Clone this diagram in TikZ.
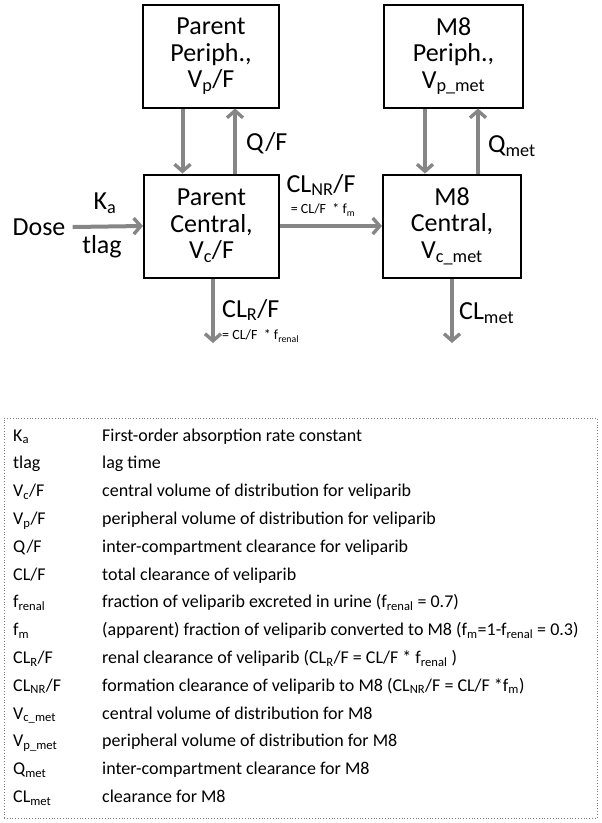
\documentclass[tikz,border=0pt]{standalone}
\usepackage{fontspec}
\setmainfont{Carlito}
\usetikzlibrary{arrows.meta}
\definecolor{arrgray}{HTML}{868686}
\newcommand{\sbs}[1]{\textsubscript{#1}}
\tikzset{
  comp/.style={draw=black, line width=2pt, minimum width=136pt, minimum height=103pt, align=center, font=\fontsize{26}{26.5}\selectfont, inner sep=0pt},
  flow/.style={draw=arrgray, line width=4pt, -{Straight Barb[length=7pt,width=16pt,line width=3.4pt]}},
  lab/.style={font=\fontsize{26}{27}\selectfont, inner sep=0pt},
  small/.style={font=\fontsize{14}{15}\selectfont, inner sep=0pt},
  lgk/.style={font=\fontsize{18}{20}\selectfont, anchor=west, inner sep=0pt},
  legbox/.style={draw=gray, line width=0.8pt, dotted}
}
\begin{document}
\begin{tikzpicture}[x=1pt,y=-1pt]
\useasboundingbox (0,0) rectangle (602,823);
% compartments
\node[comp, minimum width=136pt] (pp) at (211,56) {Parent\\Periph.,\\V\sbs{p}/F};
\node[comp, minimum width=139pt] (mp) at (453.5,56) {M8\\Periph.,\\V\sbs{p\_met}};
\node[comp, minimum width=135pt] (pc) at (211.5,226) {Parent\\Central,\\V\sbs{c}/F};
\node[comp, minimum width=138pt] (mc) at (452,226) {M8\\Central,\\V\sbs{c\_met}};
\node[lab] (dose) at (39,227) {Dose};
% coordinates for free ends
\coordinate (clrEnd) at (213,343);
\coordinate (clmEnd) at (452,343);
% flows
\draw[flow] (pp.south -| 182.5,0) -- (pc.north -| 182.5,0);
\draw[flow] (pc.north -| 235,0) -- (pp.south -| 235,0);
\draw[flow] (mp.south -| 425,0) -- (mc.north -| 425,0);
\draw[flow] (mc.north -| 478,0) -- (mp.south -| 478,0);
\draw[flow] (dose.east) ++(7,0) -- (pc.west);
\draw[flow] (pc.east) -- (mc.west);
\draw[flow] (pc.south -| clrEnd) -- (clrEnd);
\draw[flow] (mc.south -| clmEnd) -- (clmEnd);
% labels
\node[lab, anchor=west] (qf) at (246,143) {Q/F};
\node[lab, anchor=west] (qmet) at (488,146) {Q\sbs{met}};
\node[lab] (ka) at (105,203) {K\sbs{a}};
\node[lab] (tlag) at (102,247) {tlag};
\node[lab] (clnr) at (321,185) {CL\sbs{NR}/F};
\node[small] (clnrf) at (323,210) {= CL/F \ * f\sbs{m}};
\node[lab, anchor=west] (clr) at (222,310) {CL\sbs{R}/F};
\node[small, anchor=west] (clrf) at (222,336) {= CL/F \ * f\sbs{renal}};
\node[lab, anchor=west] (clmet) at (459,313) {CL\sbs{met}};
% legend
\node[legbox, minimum width=593pt, minimum height=400pt, inner sep=0pt] (legend) at (300.5,618) {};
\foreach \k/\d [count=\i from 0] in {
  {K\sbs{a}}/{First-order absorption rate constant},
  {tlag}/{lag time},
  {V\sbs{c}/F}/{central volume of distribution for veliparib},
  {V\sbs{p}/F}/{peripheral volume of distribution for veliparib},
  {Q/F}/{inter-compartment clearance for veliparib},
  {CL/F}/{total clearance of veliparib},
  {f\sbs{renal}}/{fraction of veliparib excreted in urine (f\sbs{renal} = 0.7)},
  {f\sbs{m}}/{(apparent) fraction of veliparib converted to M8 (f\sbs{m}=1-f\sbs{renal} = 0.3)},
  {CL\sbs{R}/F}/{renal clearance of veliparib (CL\sbs{R}/F = CL/F * f\sbs{renal} )},
  {CL\sbs{NR}/F}/{formation clearance of veliparib to M8 (CL\sbs{NR}/F = CL/F *f\sbs{m})},
  {V\sbs{c\_met}}/{central volume of distribution for M8},
  {V\sbs{p\_met}}/{peripheral volume of distribution for M8},
  {Q\sbs{met}}/{inter-compartment clearance for M8},
  {CL\sbs{met}}/{clearance for M8}}
{
  \node[lgk] (k\i) at (13,{437+27.8*\i}) {\strut\k};
  \node[lgk] (d\i) at (102,{437+27.8*\i}) {\strut\d};
}
\end{tikzpicture}
\end{document}
